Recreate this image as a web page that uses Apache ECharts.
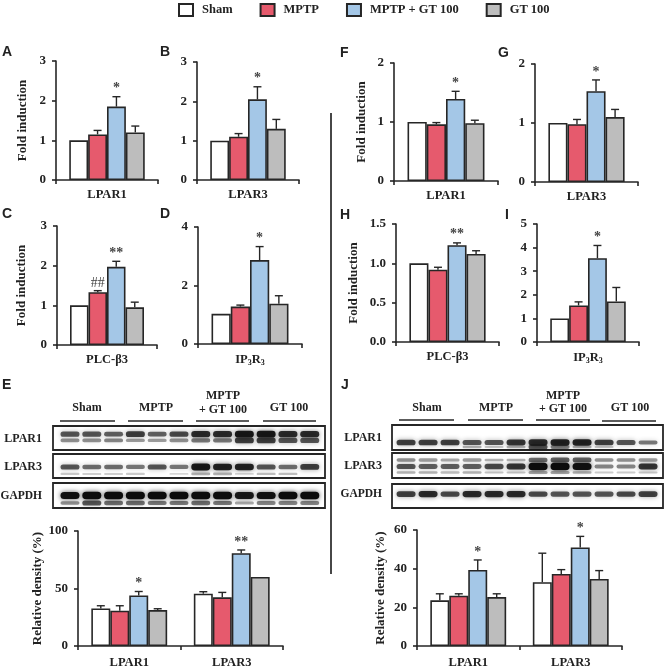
<!DOCTYPE html>
<html><head><meta charset="utf-8">
<style>html,body{margin:0;padding:0;background:#fff}#c{width:666px;height:669px}#c canvas{filter:blur(0.4px)}</style>
<script src="https://cdn.jsdelivr.net/npm/echarts@6/dist/echarts.min.js"></script>
</head><body><div id="c"></div>
<script>
const groupNames = ['Sham', 'MPTP', 'MPTP + GT 100', 'GT 100'];
const catOne1 = ['LPAR1'], catOne3 = ['LPAR3'], catPlc = ['PLC-β3'], catIp3 = ['IP3R3'];
const catBoth = ['LPAR1', 'LPAR3'];

// values: [Sham, MPTP, MPTP + GT 100, GT 100], one row per category
const valA = [[1, 1.15, 1.85, 1.2]];      const errA = [[null, 1.25, 2.1, 1.36]];   const noteA = [[null, null, '*', null]];
const valB = [[1, 1.1, 2.05, 1.3]];       const errB = [[null, 1.18, 2.37, 1.54]];  const noteB = [[null, null, '*', null]];
const valC = [[1, 1.33, 1.97, 0.95]];     const errC = [[null, 1.37, 2.11, 1.08]];  const noteC = [[null, '##', '**', null]];
const valD = [[1.03, 1.28, 2.87, 1.38]];  const errD = [[null, 1.33, 3.33, 1.65]];  const noteD = [[null, null, '*', null]];
const valE = [[32.7, 30.7, 44, 31.2], [45.5, 42.3, 80.7, 60]];
const errE = [[35, 35, 47.4, 32.4], [47.2, 46.6, 83.5, null]];
const noteE = [[null, null, '*', null], [null, null, '**', null]];
const valF = [[1, 0.96, 1.39, 0.98]];     const errF = [[null, 0.99, 1.52, 1.03]];  const noteF = [[null, null, '*', null]];
const valG = [[1, 0.98, 1.54, 1.1]];      const errG = [[null, 1.06, 1.73, 1.23]];  const noteG = [[null, null, '*', null]];
const valH = [[1, 0.92, 1.23, 1.12]];     const errH = [[null, 0.95, 1.26, 1.16]];  const noteH = [[null, null, '**', null]];
const valI = [[1, 1.55, 3.55, 1.72]];     const errI = [[null, 1.7, 4.09, 2.31]];   const noteI = [[null, null, '*', null]];
const valJ = [[23.6, 26, 39.3, 25.3], [33, 37.3, 51, 34.7]];
const errJ = [[27, 27, 44.5, 27], [48, 39.5, 56.7, 39]];
const noteJ = [[null, null, '*', null], [null, null, '*', null]];

// western blot band strengths, one per lane
const eLpar1Main = [.6, .6, .55, .7, .55, .65, .8, .8, .9, .9, .8, .8];
const eLpar1Low = [.35, .35, .4, .3, .3, .35, .45, .45, .7, .7, .6, .6];
const eLpar3Main = [.6, .5, .5, .45, .6, .45, .9, .85, .85, .6, .5, .7];
const eLpar3Low = [.1, .08, .08, .1, 0, .05, .2, .2, .05, .15, .15, 0];
const eGapdhMain = [.95, 1, 1, 1, 1, 1, 1, 1, .9, .95, 1, 1];
const eGapdhLow = [.35, .6, .5, .5, .45, .45, .5, .45, .25, .4, .4, .4];
const jLpar1Main = [.7, .7, .7, .6, .6, .75, .8, .85, .85, .7, .6, .45];
const jLpar1Low = [0, 0, 0, .2, .1, .2, .6, .4, .2, .1, 0, 0];
const jLpar3High = [.35, .3, .25, .3, .2, .2, .5, .55, .55, .35, .35, .3];
const jLpar3Main = [.6, .55, .55, .55, .65, .75, 1, 1, .95, .4, .4, .75];
const jLpar3Smear = [.2, .2, .15, .2, .12, .12, .25, .25, .2, .1, .1, .1];
const jGapdhMain = [.7, .8, .65, .8, .8, .8, .65, .6, .6, .6, .65, .7];

const serif = '"Liberation Serif"', sans = '"Liberation Sans"';
const colors = ['#ffffff', '#e65a6d', '#a4c7e7', '#bdbdbd'];
const ink = '#262626';
const CAT_GAP = 0.26;

const panels = [
  {cats: catOne1, val: valA, err: errA, note: noteA, box: [56, 61, 102, 119], max: 3, step: 1, name: 'Fold induction', gap: 27},
  {cats: catOne3, val: valB, err: errB, note: noteB, box: [197, 62, 102, 118], max: 3, step: 1},
  {cats: catPlc, val: valC, err: errC, note: noteC, box: [57, 226, 100, 119], max: 3, step: 1, name: 'Fold induction', gap: 29},
  {cats: catIp3, val: valD, err: errD, note: noteD, box: [198, 227, 104, 117], max: 4, step: 2},
  {cats: catBoth, val: valE, err: errE, note: noteE, box: [78, 531, 205, 117], max: 100, step: 50, name: 'Relative density (%)', gap: 33, lm: 10},
  {cats: catOne1, val: valF, err: errF, note: noteF, box: [394, 63, 104, 118], max: 2, step: 1, name: 'Fold induction', gap: 26},
  {cats: catOne3, val: valG, err: errG, note: noteG, box: [535, 64, 103, 118], max: 2, step: 1},
  {cats: catPlc, val: valH, err: errH, note: noteH, box: [396, 224, 103, 118], max: 1.5, step: 0.5, name: 'Fold induction', gap: 36, dec: 1},
  {cats: catIp3, val: valI, err: errI, note: noteI, box: [537, 224, 102, 118], max: 5, step: 1},
  {cats: catBoth, val: valJ, err: errJ, note: noteJ, box: [417, 530, 205, 117], max: 60, step: 20, name: 'Relative density (%)', gap: 30, lm: 10}
];

const blots = [
  {box: [53, 426, 272, 24], xr: [-0.78, 11.7], tracks: [[eLpar1Low, .4], [eLpar1Main, .66]]},
  {box: [53, 454, 272, 24], xr: [-0.78, 11.7], tracks: [[eLpar3Low, .17], [eLpar3Main, .46]]},
  {box: [53, 483, 272, 25], xr: [-0.78, 11.7], tracks: [[eGapdhLow, .2], [eGapdhMain, .5]]},
  {box: [392, 425, 271, 25], xr: [-0.64, 11.68], tracks: [[jLpar1Low, .12], [jLpar1Main, .3]]},
  {box: [392, 453, 271, 25], xr: [-0.64, 11.68], tracks: [[jLpar3Smear, .22], [jLpar3High, .72], [jLpar3Main, .46]]},
  {box: [392, 484, 271, 24], xr: [-0.64, 11.68], tracks: [[jGapdhMain, .58]]}
];

const grids = [], xAxes = [], yAxes = [], series = [];
const axisLine = {show: true, lineStyle: {color: ink, width: 1.6}};
const axisTick = {show: true, length: 4, lineStyle: {color: ink, width: 1.6}};

panels.forEach((p, idx) => {
  grids.push({left: p.box[0], top: p.box[1], width: p.box[2], height: p.box[3]});
  xAxes.push({
    gridIndex: idx, type: 'category', data: p.cats, axisLine, axisTick,
    axisLabel: {
      margin: p.lm || 8, color: '#222', fontFamily: serif, fontWeight: 'bold', fontSize: 12.5,
      formatter: v => v === 'IP3R3' ? '{m|IP}{s|3}{m|R}{s|3}' : v,
      rich: {
        m: {fontFamily: serif, fontWeight: 'bold', fontSize: 12.5, color: '#222', lineHeight: 15},
        s: {fontFamily: serif, fontWeight: 'bold', fontSize: 8, color: '#222', lineHeight: 15, verticalAlign: 'bottom'}
      }
    }
  });
  yAxes.push({
    gridIndex: idx, type: 'value', min: 0, max: p.max, interval: p.step,
    axisLine, axisTick, splitLine: {show: false},
    axisLabel: {
      margin: 10, color: '#222', fontFamily: serif, fontWeight: 'bold', fontSize: 13,
      formatter: v => p.dec ? v.toFixed(p.dec) : String(v)
    },
    name: p.name || '', nameLocation: 'middle', nameGap: p.gap || 0, nameRotate: 90,
    nameTextStyle: {color: '#222', fontFamily: serif, fontWeight: 'bold', fontSize: 13}
  });
  groupNames.forEach((g, si) => {
    series.push({
      type: 'bar', name: g, xAxisIndex: idx, yAxisIndex: idx,
      data: p.val.map(r => r[si]),
      barCategoryGap: (CAT_GAP * 100) + '%', barGap: '0%', z: 2,
      itemStyle: {color: colors[si], borderColor: ink, borderWidth: 1.6}
    });
  });
  // error whiskers and significance marks, placed through the axes
  const rows = [];
  p.val.forEach((r, ci) => r.forEach((v, si) => rows.push([ci, v, p.err[ci][si], si, p.note[ci][si]])));
  series.push({
    type: 'custom', xAxisIndex: idx, yAxisIndex: idx, z: 3, silent: true,
    encode: {x: 0, y: 1},
    dimensions: ['c', 'v', 'e', 's', {name: 'n', type: 'ordinal'}],
    data: rows,
    renderItem(params, api) {
      const ci = api.value(0), v = api.value(1), e = api.value(2), si = api.value(3), note = rows[params.dataIndex][4];
      const band = api.size([1, 0])[0];
      const bw = band * (1 - CAT_GAP) / 4;
      const dx = (si - 1.5) * bw;
      const base = api.coord([ci, v]);
      const x = base[0] + dx;
      const kids = [];
      let topY = base[1];
      if (e !== null && !isNaN(e)) {
        topY = api.coord([ci, e])[1];
        const st = {stroke: ink, lineWidth: 1.4};
        kids.push({type: 'line', shape: {x1: x, y1: base[1], x2: x, y2: topY}, style: st});
        kids.push({type: 'line', shape: {x1: x - 4, y1: topY, x2: x + 4, y2: topY}, style: st});
      }
      if (note) {
        kids.push({type: 'text', style: {
          text: note, x, y: topY - (note === '##' ? 0 : 1), textAlign: 'center', textVerticalAlign: 'bottom',
          fill: '#444', font: (note === '##' ? '' : 'bold ') + '14px ' + serif
        }});
      }
      return {type: 'group', children: kids};
    }
  });
});

blots.forEach(b => {
  const gi = grids.length;
  grids.push({left: b.box[0], top: b.box[1], width: b.box[2], height: b.box[3], show: true,
    backgroundColor: '#fff', borderColor: ink, borderWidth: 1.8});
  xAxes.push({gridIndex: gi, type: 'value', min: b.xr[0], max: b.xr[1], show: false});
  yAxes.push({gridIndex: gi, type: 'value', min: 0, max: 1, show: false});
  b.tracks.forEach(([strengths, level]) => {
    series.push({
      type: 'custom', xAxisIndex: gi, yAxisIndex: gi, silent: true, z: 3,
      encode: {x: 0, y: 1},
      data: strengths.map((s, i) => [i, s]),
      renderItem(params, api) {
        const s = api.value(1);
        if (!s) return {type: 'group', children: []};
        const c = api.coord([api.value(0), level]);
        const h = 1.5 + 6 * s, w = 19;
        return {type: 'rect', shape: {x: c[0] - w / 2, y: c[1] - h / 2, width: w, height: h, r: h / 2},
          style: {fill: '#0c0c0c', opacity: Math.min(1, 0.12 + 0.9 * s), shadowBlur: 5, shadowColor: 'rgba(0,0,0,' + (0.7 * s) + ')'}};
      }
    });
  });
});

const graphic = [];
const label = (text, x, y, font, align) => graphic.push({type: 'text', z: 10, silent: true,
  style: {text, x, y, font, fill: '#222', textAlign: align || 'center', textVerticalAlign: 'middle'}});
const rule = (x1, x2, y) => graphic.push({type: 'line', silent: true, shape: {x1, y1: y, x2, y2: y}, style: {stroke: ink, lineWidth: 1.5}});

const panelFont = 'bold 14px ' + sans;
[['A', 2, 52], ['B', 160, 52], ['C', 2, 214], ['D', 160, 214], ['E', 2, 385],
 ['F', 340, 53], ['G', 498, 53], ['H', 340, 215], ['I', 505, 215], ['J', 341, 385]]
  .forEach(([t, x, y]) => label(t, x, y, panelFont, 'left'));

const hf = 'bold 12px ' + serif, gf = 'bold 11.5px ' + serif;
// E header
label('Sham', 87, 408, hf); rule(60, 115, 421);
label('MPTP', 156, 408, hf); rule(128, 183, 421);
label('MPTP', 223, 396, hf); label('+ GT 100', 223, 410, hf); rule(196, 249, 421);
label('GT 100', 289, 408, hf); rule(263, 316, 421);
label('LPAR1', 42, 439, hf, 'right'); label('LPAR3', 42, 467, hf, 'right'); label('GAPDH', 42, 496, gf, 'right');
// J header
label('Sham', 427, 408, hf); rule(399, 454, 420);
label('MPTP', 496, 408, hf); rule(468, 523, 420);
label('MPTP', 563, 396, hf); label('+ GT 100', 563, 409, hf); rule(536, 590, 420);
label('GT 100', 630, 408, hf); rule(602, 656, 421);
label('LPAR1', 382, 438, hf, 'right'); label('LPAR3', 382, 466, hf, 'right'); label('GAPDH', 382, 494, gf, 'right');
// divider
graphic.push({type: 'line', silent: true, shape: {x1: 331, y1: 113, x2: 331, y2: 574}, style: {stroke: '#333', lineWidth: 1.8}});

const chart = echarts.init(document.getElementById('c'), null, {renderer: 'canvas'});
chart.setOption({
  animation: false, backgroundColor: '#fff',
  legend: {
    data: groupNames, left: 178, top: 3, padding: 0, icon: 'rect', itemWidth: 14, itemHeight: 12, itemGap: 27, selectedMode: false,
    textStyle: {fontFamily: serif, fontWeight: 'bold', fontSize: 12.5, color: '#222', padding: [0, 0, 0, 4]}
  },
  grid: grids, xAxis: xAxes, yAxis: yAxes, series, graphic
});
</script></body></html>
